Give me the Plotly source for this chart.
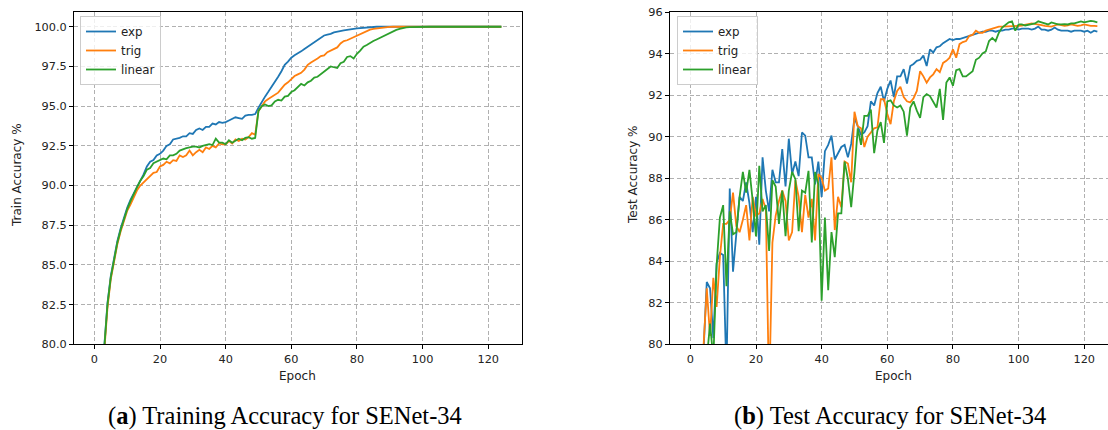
import plotly.graph_objects as go

epochs = list(range(125))

train_exp = [45.0, 65.0, 74.0, 79.8, 82.6, 84.3, 85.5, 86.5, 87.3, 88.0,
             88.6, 89.1, 89.5, 90.0, 90.4, 90.7, 91.2, 91.5, 91.6, 91.9,
             92.0, 92.2, 92.5, 92.6, 92.9, 92.95, 93.0, 93.1, 93.1, 93.3,
             93.25, 93.5, 93.6, 93.5, 93.7, 93.7, 93.9, 93.85, 94.0, 93.95,
             94.0, 94.1, 94.2, 94.3, 94.25, 94.2, 94.4, 94.45, 94.45, 94.5,
             94.9, 95.3, 95.6, 95.9, 96.2, 96.5, 96.85, 97.2, 97.6, 97.8,
             98.05, 98.2, 98.3, 98.45, 98.6, 98.75, 98.9, 99.05, 99.2, 99.3,
             99.45, 99.5, 99.55, 99.65, 99.7, 99.72, 99.77, 99.8, 99.85, 99.87,
             99.9, 99.92, 99.95, 99.96, 99.98, 99.99, 100.0, 100.0, 100.0, 100.0,
             100.0, 100.0, 100.0, 100.0, 100.0, 100.0, 100.0, 100.0, 100.0, 100.0,
             100.0, 100.0, 100.0, 100.0, 100.0, 100.0, 100.0, 100.0, 100.0, 100.0,
             100.0, 100.0, 100.0, 100.0, 100.0, 100.0, 100.0, 100.0, 100.0, 100.0,
             100.0, 100.0, 100.0, 100.0, 100.0]

train_trig = [44.0, 64.0, 73.5, 79.5, 82.3, 84.1, 85.3, 86.3, 87.1, 87.8,
              88.4, 88.8, 89.3, 89.7, 90.0, 90.2, 90.4, 90.6, 90.8, 90.85,
              91.2, 91.3, 91.5, 91.4, 91.6, 91.55, 91.9, 91.8, 91.9, 92.2,
              91.9, 92.1, 92.25, 92.1, 92.4, 92.3, 92.5, 92.4, 92.65, 92.6,
              92.6, 92.8, 92.65, 92.9, 92.8, 92.95, 92.9, 93.05, 93.3, 93.2,
              94.7, 95.0, 95.3, 95.45, 95.6, 95.7, 95.85, 96.1, 96.35, 96.5,
              96.7, 96.9, 97.0, 97.1, 97.3, 97.6, 97.75, 97.85, 98.0, 98.15,
              98.2, 98.4, 98.5, 98.6, 98.7, 98.95, 99.1, 99.15, 99.25, 99.35,
              99.4, 99.55, 99.65, 99.75, 99.82, 99.87, 99.9, 99.93, 99.96, 99.98,
              99.99, 100.0, 100.0, 100.0, 100.0, 100.0, 100.0, 100.0, 100.0, 100.0,
              100.0, 100.0, 100.0, 100.0, 100.0, 100.0, 100.0, 100.0, 100.0, 100.0,
              100.0, 100.0, 100.0, 100.0, 100.0, 100.0, 100.0, 100.0, 100.0, 100.0,
              100.0, 100.0, 100.0, 100.0, 100.0]

train_linear = [44.5, 64.5, 73.8, 79.7, 82.5, 84.2, 85.4, 86.4, 87.2, 87.9,
                88.5, 89.0, 89.5, 89.9, 90.3, 90.6, 91.0, 91.1, 91.4, 91.5,
                91.6, 91.7, 91.65, 91.9, 91.9, 92.0, 92.2, 92.3, 92.35, 92.4,
                92.45, 92.45, 92.4, 92.5, 92.55, 92.6, 92.55, 92.95, 92.7, 92.7,
                92.6, 92.85, 92.7, 92.8, 92.95, 92.85, 93.0, 93.05, 92.95, 93.0,
                94.7, 95.0, 95.1, 95.0, 95.05, 95.3, 95.4, 95.35, 95.6, 95.65,
                95.9, 96.0, 96.2, 96.4, 96.3, 96.5, 96.6, 96.8, 96.85, 97.0,
                97.15, 97.3, 97.5, 97.45, 97.4, 97.7, 97.8, 98.1, 98.15, 98.0,
                98.3, 98.5, 98.75, 98.85, 99.0, 99.1, 99.2, 99.3, 99.45, 99.5,
                99.65, 99.72, 99.8, 99.86, 99.92, 99.96, 99.98, 99.99, 100.0, 100.0,
                100.0, 100.0, 100.0, 100.0, 100.0, 100.0, 100.0, 100.0, 100.0, 100.0,
                100.0, 100.0, 100.0, 100.0, 100.0, 100.0, 100.0, 100.0, 100.0, 100.0,
                100.0, 100.0, 100.0, 100.0, 100.0]

test_exp = [62.0, 70.5, 74.8, 77.2, 79.6, 83.0, 82.7, 80.3, 83.9, 84.4,
            84.3, 78.6, 87.5, 83.5, 85.5, 87.1, 86.9, 87.8, 86.8, 85.4,
            87.1, 84.8, 89.0, 87.4, 86.4, 88.4, 87.8, 87.8, 89.4, 87.6,
            89.9, 88.2, 88.8, 88.1, 90.2, 90.05, 89.0, 89.0, 87.7, 88.8,
            87.1, 89.3, 89.6, 90.05, 88.9, 89.2, 89.5, 89.6, 89.0, 89.65,
            90.9, 90.5, 90.1, 90.2, 90.5, 91.7, 91.5, 92.1, 92.4, 91.7,
            92.3, 92.7, 91.9, 92.9, 92.9, 93.25, 92.55, 93.4, 93.5, 93.65,
            93.7, 93.9, 93.4, 94.2, 94.05, 94.3, 94.35, 94.5, 94.6, 94.7,
            94.65, 94.7, 94.7, 94.75, 94.8, 94.85, 94.9, 94.95, 95.0, 95.05,
            95.05, 95.1, 95.1, 95.05, 95.1, 95.1, 95.15, 95.15, 95.2, 95.2,
            95.15, 95.2, 95.2, 95.2, 95.15, 95.2, 95.3, 95.15, 95.15, 95.1,
            95.15, 95.25, 95.15, 95.1, 95.1, 95.1, 95.05, 95.1, 95.1, 95.1,
            95.05, 95.1, 95.0, 95.1, 95.05]

test_trig = [60.0, 68.0, 73.0, 77.0, 80.0, 82.7, 80.4, 83.2, 81.8, 84.2,
             85.8, 85.8, 86.0, 87.3, 85.7, 85.4, 86.0, 86.7, 85.0, 87.1,
             86.2, 86.3, 87.0, 86.5, 77.5, 84.9, 86.2, 86.9, 87.4, 86.9,
             85.0, 85.4, 87.9, 87.1, 85.4, 87.2, 86.1, 87.0, 85.0, 88.2,
             88.0, 87.4, 87.5, 89.0, 85.5, 87.1, 86.6, 88.8, 88.7, 87.8,
             91.2, 90.5, 90.4, 89.5, 90.0, 90.2, 90.4, 90.45, 91.8, 91.8,
             91.1, 90.6, 91.7, 92.2, 92.4, 91.9, 91.7, 91.65, 91.85, 92.2,
             93.15, 92.9, 92.6, 92.85, 93.0, 93.25, 93.1, 93.55, 93.65, 93.8,
             94.2, 93.8, 94.45, 94.55, 94.6, 94.85, 94.9, 95.1, 95.0, 95.0,
             95.1, 95.15, 95.2, 95.25, 95.3, 95.3, 95.3, 95.33, 95.3, 95.3,
             95.33, 95.35, 95.4, 95.42, 95.45, 95.43, 95.4, 95.37, 95.33, 95.3,
             95.3, 95.35, 95.4, 95.37, 95.33, 95.36, 95.4, 95.37, 95.33, 95.36,
             95.4, 95.37, 95.33, 95.33, 95.32]

test_linear = [58.0, 66.0, 72.0, 75.0, 77.5, 79.3, 81.0, 79.3, 83.8, 86.1,
               86.7, 82.8, 86.4, 85.3, 85.4, 87.1, 88.3, 87.3, 88.4, 86.9,
               85.2, 88.6, 86.4, 86.7, 84.5, 87.9, 87.6, 85.8, 87.4, 85.2,
               87.4, 88.3, 87.95, 85.45, 87.4, 87.3, 88.35, 84.9, 88.3, 87.7,
               82.1, 86.1, 82.6, 85.4, 84.2, 86.3, 86.3, 88.8, 87.95, 86.6,
               88.3, 90.4, 89.6, 91.0, 91.0, 91.3, 89.2, 90.3, 90.7, 89.7,
               91.7, 91.75, 91.5, 91.4, 91.5, 91.2, 90.05, 91.4, 91.7, 91.25,
               90.9, 91.9, 92.05, 91.95, 91.7, 91.4, 92.3, 90.8, 92.6, 92.85,
               92.45, 93.2, 93.25, 92.9, 92.9, 93.05, 93.15, 93.7, 93.8, 94.0,
               94.1, 94.6, 94.75, 94.6, 95.0, 95.25, 95.4, 95.5, 95.55, 95.1,
               95.4, 95.4, 95.35, 95.4, 95.42, 95.45, 95.55, 95.5, 95.45, 95.4,
               95.5, 95.45, 95.4, 95.4, 95.42, 95.4, 95.45, 95.45, 95.5, 95.55,
               95.5, 95.52, 95.57, 95.55, 95.5]

series_names = ["exp", "trig", "linear"]
colors = ["#1f77b4", "#ff7f0e", "#2ca02c"]

W, H = 1108, 430
def px_x(p):
    return p / W
def px_y(p):
    return 1 - p / H

font_main = "DejaVu Sans"
tick_font = dict(family=font_main, size=11.3, color="#222222")

fig = go.Figure()

for name, ys, c in zip(series_names, [train_exp, train_trig, train_linear], colors):
    fig.add_trace(go.Scatter(x=epochs, y=ys, mode="lines", name=name,
                             line=dict(color=c, width=1.8),
                             xaxis="x", yaxis="y", legend="legend"))
for name, ys, c in zip(series_names, [test_exp, test_trig, test_linear], colors):
    fig.add_trace(go.Scatter(x=epochs, y=ys, mode="lines", name=name,
                             line=dict(color=c, width=1.8),
                             xaxis="x2", yaxis="y2", legend="legend2"))

x_ticks = [0, 20, 40, 60, 80, 100, 120]
train_yticks = [80.0, 82.5, 85.0, 87.5, 90.0, 92.5, 95.0, 97.5, 100.0]
test_yticks = [80, 82, 84, 86, 88, 90, 92, 94, 96]

common_axis = dict(showline=True, linecolor="black", linewidth=1,
                   ticks="outside", ticklen=4, tickwidth=1, tickcolor="black",
                   showgrid=True, gridcolor="#b0b0b0", griddash="4px,2.5px", gridwidth=1,
                   zeroline=False, tickfont=tick_font, automargin=False)

ydom = [px_y(344.3), px_y(12)]
left_dom = [px_x(74), px_x(521.7)]
right_dom = [px_x(670), 1.0]
ppe = (521.7 - 74) / 136.4
right_max = -6.2 + (1108 - 670) / ppe

legend_style = dict(xanchor="left", yanchor="top",
                    bgcolor="rgba(255,255,255,0.8)", bordercolor="#cccccc", borderwidth=1,
                    font=dict(family=font_main, size=11.8, color="#222222"))

fig.update_layout(
    width=W, height=H,
    margin=dict(l=0, r=0, t=0, b=0),
    paper_bgcolor="white", plot_bgcolor="white",
    showlegend=True,
    xaxis=dict(domain=left_dom, range=[-6.2, 130.2], tickvals=x_ticks,
               anchor="y", mirror=True, **common_axis),
    yaxis=dict(domain=ydom, range=[80, 100.93], tickvals=train_yticks,
               ticktext=[f"{v:.1f}" for v in train_yticks],
               anchor="x", mirror=True, **common_axis),
    xaxis2=dict(domain=right_dom, range=[-6.2, right_max], tickvals=x_ticks,
                anchor="y2", mirror=True, **common_axis),
    yaxis2=dict(domain=ydom, range=[80, 96], tickvals=test_yticks,
                anchor="x2", mirror=False, **common_axis),
    legend=dict(x=px_x(80), y=px_y(16), **legend_style),
    legend2=dict(x=px_x(677), y=px_y(16), **legend_style),
)

label_font = dict(family=font_main, size=12, color="#222222")
caption_font = dict(family="Liberation Serif", size=24.5, color="black")
annotations = [
    dict(text="Epoch", x=px_x(297), y=px_y(376), xref="paper", yref="paper",
         showarrow=False, font=label_font, xanchor="center", yanchor="middle"),
    dict(text="Epoch", x=px_x(893), y=px_y(376), xref="paper", yref="paper",
         showarrow=False, font=label_font, xanchor="center", yanchor="middle"),
    dict(text="Train Accuracy %", x=px_x(17), y=px_y(175), xref="paper", yref="paper",
         showarrow=False, font=label_font, textangle=-90, xanchor="center", yanchor="middle"),
    dict(text="Test Accuracy %", x=px_x(633), y=px_y(175), xref="paper", yref="paper",
         showarrow=False, font=label_font, textangle=-90, xanchor="center", yanchor="middle"),
    dict(text="(<b>a</b>) Training Accuracy for SENet-34", x=px_x(285), y=px_y(416),
         xref="paper", yref="paper", showarrow=False, font=caption_font,
         xanchor="center", yanchor="middle"),
    dict(text="(<b>b</b>) Test Accuracy for SENet-34", x=px_x(890), y=px_y(416),
         xref="paper", yref="paper", showarrow=False, font=caption_font,
         xanchor="center", yanchor="middle"),
]
fig.update_layout(annotations=annotations)

fig.write_html("out.html")
